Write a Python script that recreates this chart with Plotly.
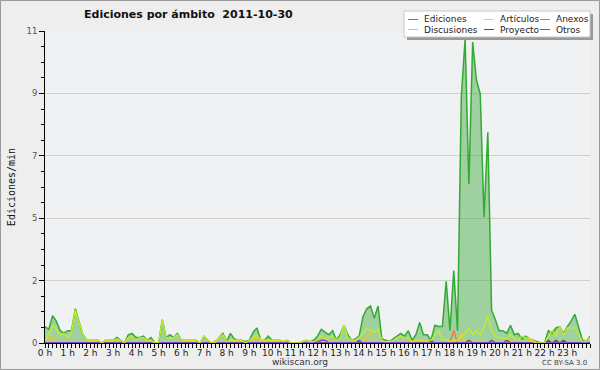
import plotly.graph_objects as go

# ---------------- data (edits per minute, 10-minute steps, 0h .. 24h) ----------------
steps_per_hour = 6
hour_labels = [f"{h} h" for h in range(24)]
y_tick_labels = ["0", "2", "5", "7", "9", "11"]
y_max = 11.4

ediciones = [
    0.6, 0.5, 1.0, 0.8, 0.45, 0.35,      # 0h
    0.45, 0.45, 1.25, 0.8, 0.3, 0.1,     # 1h
    0.1, 0.1, 0.1, 0.0, 0.1, 0.1,        # 2h
    0.1, 0.2, 0.1, 0.0, 0.3, 0.35,       # 3h
    0.2, 0.2, 0.25, 0.1, 0.2, 0.0,       # 4h
    0.0, 0.85, 0.2, 0.3, 0.2, 0.35,      # 5h
    0.1, 0.1, 0.1, 0.1, 0.1, 0.0,        # 6h
    0.25, 0.1, 0.0, 0.0, 0.2, 0.35,      # 7h
    0.05, 0.35, 0.15, 0.1, 0.1, 0.05,    # 8h
    0.1, 0.4, 0.55, 0.1, 0.1, 0.25,      # 9h
    0.1, 0.1, 0.1, 0.05, 0.1, 0.0,       # 10h
    0.0, 0.0, 0.05, 0.1, 0.05, 0.1,      # 11h
    0.25, 0.5, 0.4, 0.3, 0.45, 0.1,      # 12h
    0.3, 0.65, 0.3, 0.1, 0.15, 0.25,     # 13h
    0.95, 1.25, 1.35, 0.9, 1.35, 0.15,   # 14h
    0.1, 0.05, 0.15, 0.25, 0.35, 0.25,   # 15h
    0.45, 0.1, 0.3, 0.75, 0.3, 0.3,      # 16h
    0.1, 0.65, 0.6, 0.6, 2.25, 0.45,     # 17h
    2.65, 0.45, 9.0, 11.1, 5.8, 11.0,    # 18h
    9.6, 9.1, 4.6, 7.7, 1.2, 0.85,       # 19h
    0.45, 0.45, 0.35, 0.65, 0.3, 0.35,   # 20h
    0.15, 0.25, 0.15, 0.1, 0.05, 0.0,    # 21h
    0.0, 0.45, 0.35, 0.55, 0.6, 0.35,    # 22h
    0.6, 0.8, 1.05, 0.6, 0.1, 0.05,      # 23h
    0.25,                                # 24h
]

articulos = [
    0.1, 0.3, 0.65, 0.5, 0.3, 0.35,
    0.2, 0.4, 1.2, 0.75, 0.3, 0.1,
    0.1, 0.1, 0.1, 0.0, 0.1, 0.1,
    0.1, 0.15, 0.1, 0.0, 0.2, 0.25,
    0.1, 0.2, 0.2, 0.1, 0.1, 0.0,
    0.0, 0.85, 0.2, 0.2, 0.2, 0.3,
    0.1, 0.1, 0.1, 0.1, 0.1, 0.0,
    0.25, 0.1, 0.0, 0.0, 0.2, 0.3,
    0.05, 0.1, 0.1, 0.1, 0.1, 0.0,
    0.1, 0.2, 0.3, 0.1, 0.1, 0.1,
    0.1, 0.1, 0.1, 0.05, 0.1, 0.0,
    0.0, 0.0, 0.05, 0.1, 0.05, 0.05,
    0.1, 0.25, 0.15, 0.2, 0.25, 0.1,
    0.2, 0.65, 0.2, 0.1, 0.1, 0.2,
    0.35, 0.55, 0.45, 0.4, 0.5, 0.1,
    0.05, 0.05, 0.1, 0.2, 0.25, 0.2,
    0.2, 0.05, 0.1, 0.1, 0.1, 0.05,
    0.1, 0.3, 0.45, 0.1, 0.15, 0.05,
    0.1, 0.1, 0.25, 0.35, 0.55, 0.3,
    0.45, 0.3, 0.6, 1.0, 0.45, 0.25,
    0.2, 0.2, 0.15, 0.3, 0.15, 0.1,
    0.25, 0.2, 0.15, 0.05, 0.0, 0.0,
    0.0, 0.25, 0.45, 0.25, 0.6, 0.3,
    0.55, 0.55, 0.55, 0.3, 0.05, 0.05,
    0.2,
]

discusiones = [
    0.0, 0.1, 0.25, 0.05, 0.0, 0.0,
    0.05, 0.0, 0.0, 0.0, 0.0, 0.0,
    0.0, 0.1, 0.0, 0.0, 0.0, 0.0,
    0.0, 0.1, 0.0, 0.0, 0.0, 0.0,
    0.0, 0.0, 0.0, 0.1, 0.0, 0.0,
    0.0, 0.0, 0.0, 0.0, 0.0, 0.0,
    0.0, 0.0, 0.0, 0.0, 0.0, 0.0,
    0.0, 0.0, 0.0, 0.1, 0.0, 0.0,
    0.0, 0.0, 0.0, 0.0, 0.0, 0.0,
    0.0, 0.15, 0.2, 0.15, 0.0, 0.0,
    0.05, 0.0, 0.0, 0.0, 0.0, 0.0,
    0.0, 0.0, 0.0, 0.0, 0.0, 0.0,
    0.0, 0.0, 0.1, 0.0, 0.0, 0.0,
    0.0, 0.0, 0.0, 0.0, 0.0, 0.0,
    0.0, 0.25, 0.35, 0.0, 0.0, 0.0,
    0.0, 0.0, 0.0, 0.0, 0.0, 0.0,
    0.1, 0.0, 0.1, 0.0, 0.0, 0.0,
    0.0, 0.0, 0.0, 0.0, 0.0, 0.0,
    0.0, 0.0, 0.35, 0.0, 0.0, 0.0,
    0.0, 0.1, 0.0, 0.0, 0.0, 0.0,
    0.0, 0.0, 0.0, 0.1, 0.0, 0.0,
    0.0, 0.0, 0.1, 0.1, 0.0, 0.0,
    0.0, 0.0, 0.0, 0.0, 0.0, 0.0,
    0.0, 0.0, 0.0, 0.0, 0.0, 0.0,
    0.0,
]

anexos = [0.0] * 108 + [0.45] + [0.0] * 36

proyecto = [
    0.0, 0.0, 0.0, 0.0, 0.0, 0.0,
    0.0, 0.0, 0.0, 0.0, 0.0, 0.0,
    0.0, 0.0, 0.0, 0.0, 0.0, 0.0,
    0.0, 0.0, 0.0, 0.0, 0.0, 0.0,
    0.0, 0.0, 0.0, 0.0, 0.0, 0.0,
    0.0, 0.0, 0.0, 0.0, 0.0, 0.0,
    0.0, 0.0, 0.0, 0.0, 0.0, 0.0,
    0.0, 0.0, 0.0, 0.0, 0.0, 0.0,
    0.0, 0.0, 0.0, 0.0, 0.0, 0.0,
    0.0, 0.0, 0.0, 0.0, 0.0, 0.0,
    0.0, 0.0, 0.0, 0.0, 0.0, 0.0,
    0.0, 0.0, 0.0, 0.0, 0.0, 0.0,
    0.1, 0.0, 0.0, 0.0, 0.0, 0.0,
    0.0, 0.0, 0.0, 0.0, 0.0, 0.0,
    0.0, 0.0, 0.0, 0.0, 0.0, 0.0,
    0.0, 0.0, 0.0, 0.0, 0.0, 0.0,
    0.0, 0.0, 0.0, 0.0, 0.0, 0.0,
    0.0, 0.0, 0.0, 0.0, 0.0, 0.0,
    0.0, 0.0, 0.0, 0.0, 0.1, 0.0,
    0.0, 0.0, 0.0, 0.0, 0.1, 0.0,
    0.0, 0.0, 0.1, 0.0, 0.0, 0.0,
    0.0, 0.0, 0.0, 0.0, 0.0, 0.0,
    0.0, 0.1, 0.0, 0.1, 0.0, 0.1,
    0.0, 0.0, 0.0, 0.0, 0.0, 0.0,
    0.0,
]

otros = [0.0] * 73 + [0.1, 0.1] + [0.0] * 8 + [0.1] + [0.0] * 18 + [0.1] + [0.0] * 42

times = [i / steps_per_hour for i in range(len(ediciones))]

# ---------------- styling ----------------
W, H = 600, 370
ML, MR, MT, MB = 45, 10, 31, 27
PW, PH = W - ML - MR, H - MT - MB

def px(x):
    return (x - ML) / PW

def py(y):
    return (H - MB - y) / PH

FONT = "DejaVu Sans"
colors = {
    "Ediciones": "#33aa33",
    "Artículos": "#c6ee1a",
    "Anexos": "#ff6a2a",
    "Discusiones": "#f7c513",
    "Proyecto": "#555555",
    "Otros": "#8a3cf0",
}

fig = go.Figure()
fig.add_trace(go.Scatter(x=times, y=ediciones, mode="lines", name="Ediciones",
                         line=dict(color=colors["Ediciones"], width=1.5),
                         fill="tozeroy", fillcolor="rgba(60,170,60,0.45)",
                         showlegend=False))
for name, vals in [("Discusiones", discusiones), ("Anexos", anexos),
                   ("Proyecto", proyecto), ("Otros", otros),
                   ("Artículos", articulos)]:
    fig.add_trace(go.Scatter(x=times, y=vals, mode="lines", name=name,
                             line=dict(color=colors[name], width=1.3),
                             showlegend=False))

shapes = []
annotations = []

# outer frame
shapes.append(dict(type="rect", xref="paper", yref="paper",
                   x0=px(0.5), x1=px(W - 0.5), y0=py(0.5), y1=py(H - 0.5),
                   line=dict(color="#9a9a9a", width=1), layer="below"))

# legend (drawn box with short line samples)
shapes.append(dict(type="rect", xref="paper", yref="paper",
                   x0=px(407), x1=px(593), y0=py(14), y1=py(40),
                   fillcolor="#999999", line=dict(width=0), layer="above"))
shapes.append(dict(type="rect", xref="paper", yref="paper",
                   x0=px(404), x1=px(590), y0=py(11), y1=py(37),
                   fillcolor="#ffffff", line=dict(color="#c8c8c8", width=1),
                   layer="above"))
legend_items = [
    ("Ediciones", 408, 19.5), ("Artículos", 484, 19.5), ("Anexos", 540, 19.5),
    ("Discusiones", 408, 29.5), ("Proyecto", 484, 29.5), ("Otros", 540, 29.5),
]
for name, lx, ly in legend_items:
    shapes.append(dict(type="line", xref="paper", yref="paper",
                       x0=px(lx), x1=px(lx + 10), y0=py(ly), y1=py(ly),
                       line=dict(color=colors[name], width=1), layer="above"))
    annotations.append(dict(text=name, xref="paper", yref="paper",
                            x=px(lx + 14), y=py(ly), xanchor="left", yanchor="middle",
                            showarrow=False,
                            font=dict(family=FONT, size=9, color="#222222")))

# title
annotations.append(dict(text="<b>Ediciones por ámbito  2011-10-30</b>",
                        xref="paper", yref="paper", x=px(188), y=py(15),
                        xanchor="center", yanchor="middle", showarrow=False,
                        font=dict(family=FONT, size=11, color="#111111")))
# footer
annotations.append(dict(text="wikiscan.org", xref="paper", yref="paper",
                        x=px(300), y=py(362), xanchor="center", yanchor="middle",
                        showarrow=False, font=dict(family=FONT, size=9, color="#333333")))
annotations.append(dict(text="CC BY-SA 3.0", xref="paper", yref="paper",
                        x=px(589), y=py(363), xanchor="right", yanchor="middle",
                        showarrow=False, font=dict(family=FONT, size=7, color="#444444")))

y_tick_vals = [i * y_max / (len(y_tick_labels) - 1) for i in range(len(y_tick_labels))]

fig.update_layout(
    width=W, height=H,
    margin=dict(l=ML, r=MR, t=MT, b=MB, pad=0),
    paper_bgcolor="#eeeeee",
    plot_bgcolor="#f0f1f3",
    showlegend=False,
    shapes=shapes,
    annotations=annotations,
    xaxis=dict(range=[0, 24], tickmode="array", tickvals=list(range(24)),
               ticktext=hour_labels, ticks="outside", ticklen=4,
               tickcolor="#000000", tickwidth=1, tickangle=0, automargin=False,
               ticklabelstandoff=-3,
               showline=True, linecolor="#000000", linewidth=1,
               showgrid=False, zeroline=False,
               tickfont=dict(family=FONT, size=9, color="#222222"),
               minor=dict(tickmode="linear", tick0=0, dtick=1 / steps_per_hour,
                          ticks="outside", ticklen=4, tickcolor="#000000",
                          showgrid=False)),
    yaxis=dict(range=[0, y_max], tickmode="array", tickvals=y_tick_vals,
               ticktext=y_tick_labels, ticks="outside", ticklen=5,
               tickcolor="#000000", showline=True, linecolor="#000000",
               linewidth=1, showgrid=True, gridcolor="#cfcfcf", gridwidth=1,
               zeroline=False, automargin=False,
               tickfont=dict(family=FONT, size=8.5, color="#555555"),
               title=dict(text="Ediciones/min", standoff=8,
                          font=dict(family="DejaVu Sans Mono", size=10, color="#111111")),
               minor=dict(tickmode="linear", tick0=0, dtick=y_max / 20,
                          ticks="outside", ticklen=3, tickcolor="#000000",
                          showgrid=False)),
)

fig.write_html("out.html",
               config={"displayModeBar": False},
               post_script="document.body.style.margin='0';document.body.style.overflow='hidden';")
